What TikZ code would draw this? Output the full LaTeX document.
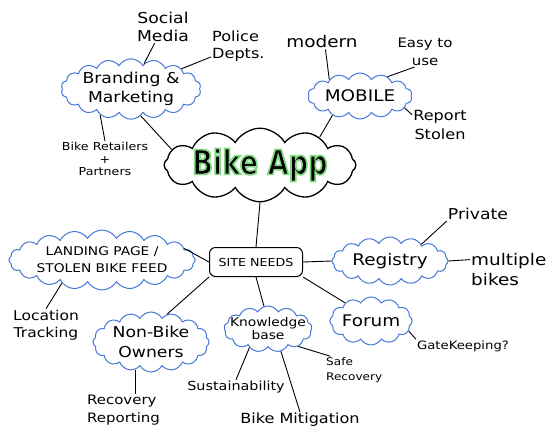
\documentclass[tikz,border=0pt]{standalone}
\usepackage{fontspec}
\setmainfont{DejaVu Sans}[FakeStretch=1.15]
\newfontface\appfont{DejaVu Sans Bold}[FakeBold=5, FakeStretch=0.8]
\usetikzlibrary{shapes.symbols}
\definecolor{cloudblue}{RGB}{70,120,215}
\begin{document}
\begin{tikzpicture}[x=1pt,y=-1pt,
  bubble/.style={cloud, draw=cloudblue, line width=1pt, cloud puffs=#1, cloud puff arc=120, cloud ignores aspect, inner sep=0pt, align=center},
  bubble/.default=16,
  lbl/.style={align=center, inner sep=1pt},
  lbll/.style={align=left, inner sep=1pt},
  link/.style={line width=0.9pt}]
\useasboundingbox (0,0) rectangle (559,447);

% central cloud
\node[cloud, draw=black, line width=1.3pt, cloud puffs=12, cloud puff arc=120, cloud ignores aspect, minimum width=178pt, minimum height=62pt, inner sep=0pt] (app) at (260,165)
  {\appfont\fontsize{34}{34}\selectfont\special{pdf:bcolor [0 0 0] [0.5 0.85 0.5]}Bike App\special{pdf:ecolor}};

% clouds
\node[bubble=18, minimum width=136pt, minimum height=56pt, font=\fontsize{15}{19}\selectfont] (brand) at (131,89) {Branding \&\\Marketing};
\node[bubble=14, minimum width=104pt, minimum height=46pt, font=\fontsize{16}{19}\selectfont] (mobile) at (360,96) {MOBILE};
\node[bubble=20, minimum width=174pt, minimum height=60pt, font=\fontsize{12}{17}\selectfont] (landing) at (102,260) {LANDING PAGE /\\STOLEN BIKE FEED};
\node[bubble=16, minimum width=116pt, minimum height=60pt, font=\fontsize{15}{20}\selectfont] (nonbike) at (151,342) {Non-Bike\\Owners};
\node[bubble=13, minimum width=88pt, minimum height=46pt, inner xsep=-7pt, inner ysep=-3pt, font=\fontsize{12}{13}\selectfont] (know) at (268,329) {Knowledge\\base};
\node[bubble=16, minimum width=116pt, minimum height=48pt, font=\fontsize{16}{19}\selectfont] (registry) at (390,261) {Registry};
\node[bubble=12, minimum width=78pt, minimum height=48pt, font=\fontsize{16}{19}\selectfont] (forum) at (371,321) {Forum};

% site needs
\node[draw, rounded corners=6pt, line width=1pt, minimum width=93pt, minimum height=29pt, inner sep=0pt, font=\fontsize{11}{13}\selectfont] (site) at (256,262) {SITE NEEDS};

% labels
\node[lbl, font=\fontsize{15}{18}\selectfont] (social) at (163,27) {Social\\Media};
\node[lbll, font=\fontsize{14}{17}\selectfont, anchor=west] (police) at (211,46) {Police\\Depts.};
\node[lbl, font=\fontsize{11}{12.5}\selectfont] (retail) at (105,159) {Bike Retailers\\+\\Partners};
\node[lbl, font=\fontsize{16}{19}\selectfont] (modern) at (322,42) {modern};
\node[lbl, font=\fontsize{13}{18}\selectfont] (easy) at (425,52) {Easy to\\use};
\node[lbl, font=\fontsize{14}{19}\selectfont] (report) at (440,125) {Report\\Stolen};
\node[lbl, font=\fontsize{13.5}{17}\selectfont] (location) at (46,325) {Location\\Tracking};
\node[lbll, font=\fontsize{13}{18}\selectfont, anchor=west] (recovery) at (86,410) {Recovery\\Reporting};
\node[lbl, font=\fontsize{12.5}{15}\selectfont] (sustain) at (236,387) {Sustainability};
\node[lbl, font=\fontsize{14}{17}\selectfont] (mitig) at (300,420) {Bike Mitigation};
\node[lbll, font=\fontsize{10.5}{15}\selectfont, anchor=west] (safe) at (325,370) {Safe\\Recovery};
\node[lbl, font=\fontsize{15}{18}\selectfont] (private) at (478,214) {Private};
\node[lbll, font=\fontsize{16}{20}\selectfont, anchor=west] (multiple) at (470,270) {multiple\\bikes};
\node[lbl, font=\fontsize{11.5}{14}\selectfont] (gate) at (463,346) {GateKeeping?};

% connectors
\draw[link] (brand) -- (social);
\draw[link] (brand) -- (police);
\draw[link] (brand.220) -- (retail.north);
\draw[link] (brand.290) -- (app.170);
\draw[link] (mobile.152) -- (modern.295);
\draw[link] (mobile.35) -- (easy.235);
\draw[link] (mobile.345) -- (report.160);
\draw[link] (mobile.215) -- (app.25);
\draw[link] (app.south) -- (site.north);
\draw[link] (site.west) -- (landing.8);
\draw[link] (site.south west) -- (nonbike.60);
\draw[link] (site.south) -- (know.100);
\draw[link] (site.east) -- (registry.west);
\draw[link] (site.south east) -- (forum.145);
\draw[link] (landing.210) -- (location.north);
\draw[link] (nonbike.240) -- (recovery.north -| nonbike.240);
\draw[link] (know.225) -- (sustain.north);
\draw[link] (know.300) -- (mitig.north);
\draw[link] (know.330) -- (safe.150);
\draw[link] (registry.28) -- (private.south west);
\draw[link] (registry.east) -- (multiple.165);
\draw[link] (forum.345) -- (gate.north west);
\end{tikzpicture}
\end{document}
